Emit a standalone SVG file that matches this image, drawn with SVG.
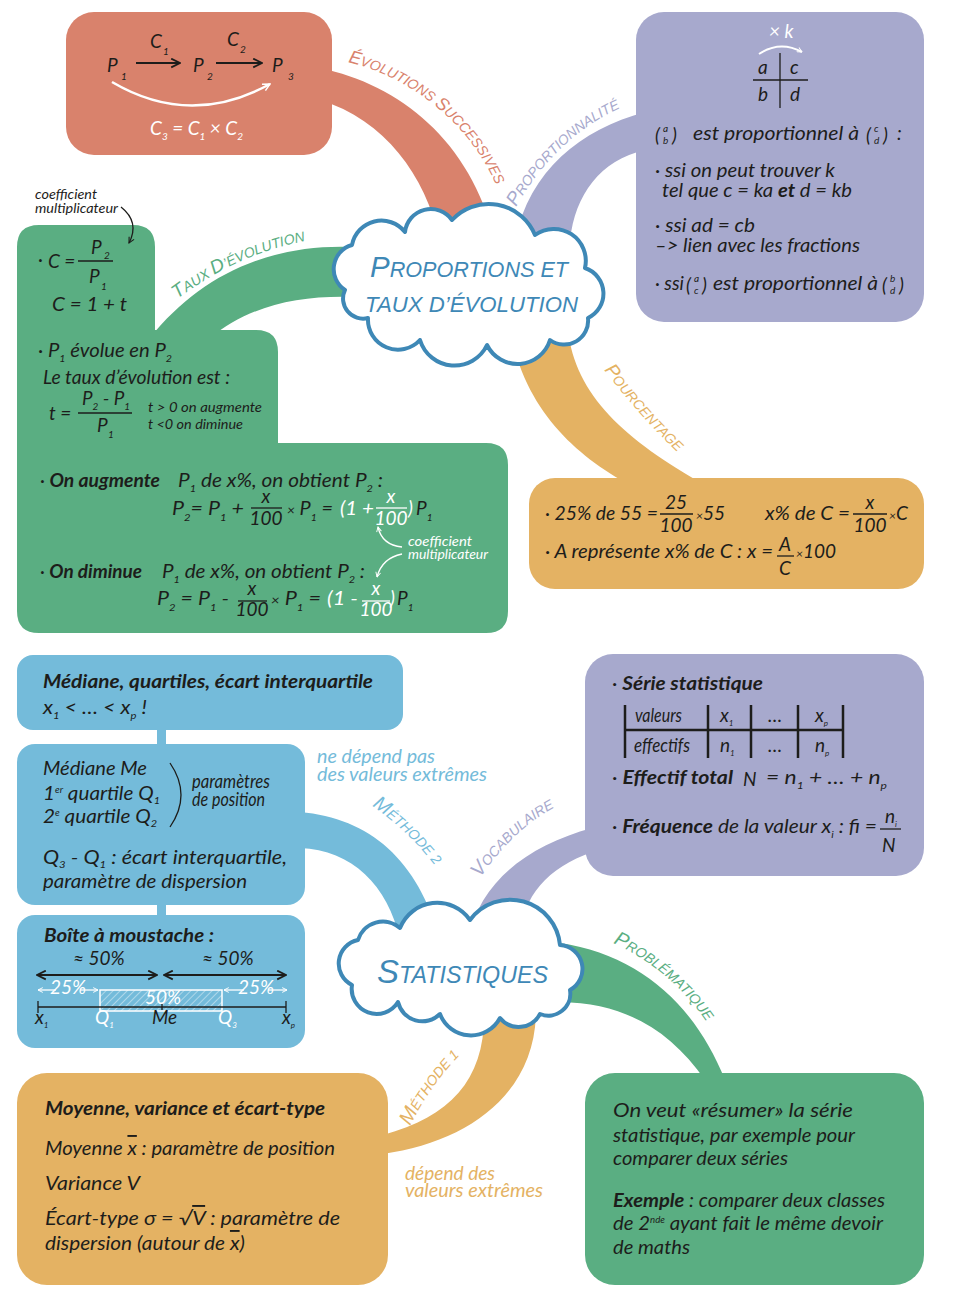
<svg xmlns="http://www.w3.org/2000/svg" width="960" height="1302" viewBox="0 0 960 1302">
<defs>
<style>
.t{font-family:Lato,'Liberation Sans',sans-serif;font-style:italic;font-size:19px;fill:#1d1d1b}
.b{font-weight:700}
.w{fill:#fff}
.sm{font-size:12.5px}
.sb{font-size:10px}
.lbl{font-family:'Liberation Sans',sans-serif;font-style:italic;font-size:14px}
.ttl{font-family:'Liberation Sans',sans-serif;font-style:italic;fill:#3E88B6}
.cloud{fill:#fff;stroke:#3E88B6;stroke-width:4;stroke-linejoin:round}
.ln{stroke:#1d1d1b;stroke-width:1.3;fill:none}
.wl{stroke:#fff;stroke-width:1.3;fill:none}
.tb{stroke:#1d1d1b;stroke-width:2.5}
</style>
<marker id="mB" viewBox="0 0 10 10" refX="9" refY="5" markerWidth="11" markerHeight="11" markerUnits="userSpaceOnUse" orient="auto-start-reverse"><path d="M1,1 L9,5 L1,9" fill="none" stroke="#1d1d1b" stroke-width="1.6"/></marker>
<marker id="mBs" viewBox="0 0 10 10" refX="9" refY="5" markerWidth="7" markerHeight="7" markerUnits="userSpaceOnUse" orient="auto-start-reverse"><path d="M1,1 L9,5 L1,9" fill="none" stroke="#1d1d1b" stroke-width="1.6"/></marker>
<marker id="mW" viewBox="0 0 10 10" refX="9" refY="5" markerWidth="9" markerHeight="9" markerUnits="userSpaceOnUse" orient="auto-start-reverse"><path d="M1,1 L9,5 L1,9" fill="none" stroke="#fff" stroke-width="1.6"/></marker>
<marker id="mWs" viewBox="0 0 10 10" refX="9" refY="5" markerWidth="6" markerHeight="6" markerUnits="userSpaceOnUse" orient="auto-start-reverse"><path d="M1,1 L9,5 L1,9" fill="none" stroke="#fff" stroke-width="1.6"/></marker>
<pattern id="hatch" width="5" height="5" patternUnits="userSpaceOnUse" patternTransform="rotate(45)"><line x1="0" y1="0" x2="0" y2="5" stroke="#fff" stroke-opacity="0.55" stroke-width="1.5"/></pattern>
<path id="pEvo" d="M348,62 C415,78 478,130 502,200"/>
<path id="pProp" d="M516,207 C543,160 580,123 634,102"/>
<path id="pTaux" d="M177,299 C214,272 255,250 310,240"/>
<path id="pPour" d="M604,370 C626,398 651,428 682,456"/>
<path id="pMet2" d="M372,806 C400,825 428,852 452,890"/>
<path id="pVoc" d="M480,878 C503,845 530,817 568,801"/>
<path id="pProb" d="M613,943 C657,963 692,995 718,1040"/>
<path id="pMet1" d="M410,1126 C426,1094 448,1064 476,1040"/>
</defs>
<rect width="960" height="1302" fill="#fff"/>

<g id="connectors">
<path d="M320,68 C400,85 470,140 495,240 L440,240 C425,175 385,120 320,100 Z" fill="#D9826C"/>
<path d="M515,240 C530,170 580,130 645,112 L645,150 C600,160 575,195 570,240 Z" fill="#A7A9CD"/>
<path d="M355,247 C270,243 200,275 150,338 L210,338 C250,305 300,295 355,297 Z" fill="#5AAE82"/>
<path d="M510,330 C525,410 575,455 630,485 L705,485 C625,440 575,395 568,330 Z" fill="#E4B263"/>
<path d="M300,812 C370,818 418,860 440,940 L400,940 C388,885 352,850 300,848 Z" fill="#74BBDA"/>
<path d="M468,940 C480,880 530,845 592,828 L592,852 C548,868 522,895 520,940 Z" fill="#A7A9CD"/>
<path d="M560,943 C640,955 695,1005 725,1080 L705,1080 C670,1030 625,1003 560,1002 Z" fill="#5AAE82"/>
<path d="M484,1010 C486,1078 452,1116 383,1135 L383,1154 C468,1142 536,1094 536,1010 Z" fill="#E4B263"/>
<rect x="157" y="728" width="9" height="20" fill="#74BBDA"/>
<rect x="157" y="902" width="9" height="16" fill="#74BBDA"/>
<text class="lbl" fill="#D9826C"><textPath href="#pEvo"><tspan font-size="18">É</tspan>VOLUTIONS <tspan font-size="18">S</tspan>UCCESSIVES</textPath></text>
<text class="lbl" fill="#A7A9CD" font-size="15"><textPath href="#pProp"><tspan font-size="19">P</tspan>ROPORTIONNALITÉ</textPath></text>
<text class="lbl" fill="#5AAE82" font-size="15"><textPath href="#pTaux"><tspan font-size="19">T</tspan>AUX <tspan font-size="19">D</tspan>’ÉVOLUTION</textPath></text>
<text class="lbl" fill="#E4B263" font-size="15"><textPath href="#pPour"><tspan font-size="19">P</tspan>OURCENTAGE</textPath></text>
<text class="lbl" fill="#74BBDA" font-size="16"><textPath href="#pMet2"><tspan font-size="20">M</tspan>ÉTHODE 2</textPath></text>
<text class="lbl" fill="#A7A9CD" font-size="16"><textPath href="#pVoc"><tspan font-size="20">V</tspan>OCABULAIRE</textPath></text>
<text class="lbl" fill="#5AAE82" font-size="16"><textPath href="#pProb"><tspan font-size="20">P</tspan>ROBLÉMATIQUE</textPath></text>
<text class="lbl" fill="#E4B263" font-size="16"><textPath href="#pMet1"><tspan font-size="20">M</tspan>ÉTHODE 1</textPath></text>
</g>

<g id="evolutions-successives">
<rect x="66" y="12" width="266" height="143" rx="28" fill="#D9826C"/>
<text class="t" x="107" y="72" font-size="26">P</text><text class="t sb" x="121" y="80">1</text>
<line x1="136" y1="63" x2="180" y2="63" stroke="#1d1d1b" stroke-width="2" marker-end="url(#mB)"/>
<text class="t" x="150" y="48" font-size="22">C</text><text class="t sb" x="163" y="55">1</text>
<text class="t" x="193" y="72" font-size="26">P</text><text class="t sb" x="207" y="80">2</text>
<line x1="216" y1="63" x2="262" y2="63" stroke="#1d1d1b" stroke-width="2" marker-end="url(#mB)"/>
<text class="t" x="227" y="46" font-size="22">C</text><text class="t sb" x="240" y="53">2</text>
<text class="t" x="272" y="72" font-size="26">P</text><text class="t sb" x="288" y="80">3</text>
<path d="M112,82 Q190,128 270,84" stroke="#fff" stroke-width="2.5" fill="none" marker-end="url(#mW)"/>
<text class="t w" x="150" y="135" font-size="21" textLength="93" lengthAdjust="spacingAndGlyphs">C<tspan class="sb" dy="5">3</tspan><tspan dy="-5"> = C</tspan><tspan class="sb" dy="5">1</tspan><tspan dy="-5"> × C</tspan><tspan class="sb" dy="5">2</tspan></text>
</g>

<g id="proportionnalite">
<rect x="636" y="12" width="288" height="310" rx="28" fill="#A7A9CD"/>
<text class="t w" x="769" y="38" font-size="15">× k</text>
<path d="M759,54 Q780,40 802,52" stroke="#fff" stroke-width="2" fill="none" marker-end="url(#mWs)"/>
<line x1="780" y1="53" x2="780" y2="108" class="ln"/>
<line x1="753" y1="80" x2="808" y2="80" class="ln"/>
<text class="t" x="758" y="74">a</text><text class="t" x="790" y="74">c</text>
<text class="t" x="758" y="101">b</text><text class="t" x="790" y="101">d</text>
<text class="t" x="655" y="142" font-size="22">(</text>
<text class="t sb" x="663" y="132">a</text><text class="t sb" x="663" y="144">b</text>
<text class="t" x="672" y="142" font-size="22">)</text>
<text class="t" x="693" y="140" textLength="166" lengthAdjust="spacingAndGlyphs">est proportionnel à</text>
<text class="t" x="866" y="142" font-size="22">(</text>
<text class="t sb" x="874" y="132">c</text><text class="t sb" x="874" y="144">d</text>
<text class="t" x="883" y="142" font-size="22">)</text>
<text class="t" x="897" y="140">:</text>
<text class="t" x="655" y="177" textLength="180" lengthAdjust="spacingAndGlyphs">· ssi on peut trouver k</text>
<text class="t" x="662" y="197" textLength="190" lengthAdjust="spacingAndGlyphs">tel que c = ka <tspan class="b">et</tspan> d = kb</text>
<text class="t" x="655" y="232" textLength="100" lengthAdjust="spacingAndGlyphs">· ssi ad = cb</text>
<text class="t" x="655" y="252" textLength="205" lengthAdjust="spacingAndGlyphs">–&gt; lien avec les fractions</text>
<text class="t" x="655" y="290">· ssi</text>
<text class="t" x="686" y="292" font-size="22">(</text>
<text class="t sb" x="694" y="282">a</text><text class="t sb" x="694" y="294">c</text>
<text class="t" x="702" y="292" font-size="22">)</text>
<text class="t" x="713" y="290" textLength="165" lengthAdjust="spacingAndGlyphs">est proportionnel à</text>
<text class="t" x="882" y="292" font-size="22">(</text>
<text class="t sb" x="890" y="282">b</text><text class="t sb" x="890" y="294">d</text>
<text class="t" x="899" y="292" font-size="22">)</text>
</g>

<g id="taux-evolution">
<path d="M39,225 H133 Q155,225 155,247 V330 H256 Q278,330 278,352 V443 H486 Q508,443 508,465 V611 Q508,633 486,633 H39 Q17,633 17,611 V247 Q17,225 39,225 Z" fill="#5AAE82"/>
<text class="t sm" x="35" y="199" textLength="62" lengthAdjust="spacingAndGlyphs">coefficient</text>
<text class="t sm" x="35" y="213" textLength="83" lengthAdjust="spacingAndGlyphs">multiplicateur</text>
<path d="M121,207 Q140,222 129,243" class="ln" marker-end="url(#mBs)"/>
<text class="t" x="38" y="266">·</text>
<text class="t" x="48" y="268" font-size="21">C =</text>
<line x1="78" y1="261" x2="113" y2="261" class="ln"/>
<text class="t" x="91" y="254">P</text><text class="t sb" x="104" y="259">2</text>
<text class="t" x="89" y="283">P</text><text class="t sb" x="101" y="290">1</text>
<text class="t" x="52" y="311" font-size="21" textLength="75" lengthAdjust="spacingAndGlyphs">C = 1 + t</text>
<text class="t" x="38" y="357" textLength="134" lengthAdjust="spacingAndGlyphs">· P<tspan class="sb" dy="5">1</tspan><tspan dy="-5"> évolue en P</tspan><tspan class="sb" dy="5">2</tspan></text>
<text class="t" x="43" y="384" textLength="187" lengthAdjust="spacingAndGlyphs">Le taux d’évolution est :</text>
<text class="t" x="49" y="420" font-size="20">t =</text>
<line x1="78" y1="413" x2="132" y2="413" class="ln"/>
<text class="t" x="82" y="405" textLength="48" lengthAdjust="spacingAndGlyphs">P<tspan class="sb" dy="5">2</tspan><tspan dy="-5"> - P</tspan><tspan class="sb" dy="5">1</tspan></text>
<text class="t" x="97" y="432">P</text><text class="t sb" x="108" y="438">1</text>
<text class="t sm" x="148" y="412" textLength="114" lengthAdjust="spacingAndGlyphs">t &gt; 0 on augmente</text>
<text class="t sm" x="148" y="429" textLength="95" lengthAdjust="spacingAndGlyphs">t &lt;0 on diminue</text>
<text class="t" x="40" y="487" textLength="120" lengthAdjust="spacingAndGlyphs">· <tspan class="b">On augmente</tspan></text>
<text class="t" x="178" y="487" textLength="205" lengthAdjust="spacingAndGlyphs">P<tspan class="sb" dy="5">1</tspan><tspan dy="-5"> de x%, on obtient P</tspan><tspan class="sb" dy="5">2</tspan><tspan dy="-5"> :</tspan></text>
<text class="t" x="172" y="515" font-size="20" textLength="72" lengthAdjust="spacingAndGlyphs">P<tspan class="sb" dy="6">2</tspan><tspan dy="-6">= P</tspan><tspan class="sb" dy="6">1</tspan><tspan dy="-6"> +</tspan></text>
<text class="t" x="266" y="503" font-size="13" text-anchor="middle">x</text>
<line x1="251" y1="508" x2="282" y2="508" class="ln"/>
<text class="t" x="266" y="525" font-size="14" text-anchor="middle">100</text>
<text class="t" x="287" y="515" font-size="20" textLength="46" lengthAdjust="spacingAndGlyphs"><tspan font-size="13">×</tspan> P<tspan class="sb" dy="6">1</tspan><tspan dy="-6"> =</tspan></text>
<text class="t w" x="340" y="515" font-size="20" textLength="34" lengthAdjust="spacingAndGlyphs">(1 +</text>
<text class="t w" x="391" y="503" font-size="13" text-anchor="middle">x</text>
<line x1="376" y1="508" x2="407" y2="508" class="wl"/>
<text class="t w" x="391" y="525" font-size="14" text-anchor="middle">100</text>
<text class="t w" x="408" y="515" font-size="20">)</text>
<text class="t" x="416" y="515" font-size="20">P<tspan class="sb" dy="6">1</tspan></text>
<text class="t w sm" x="408" y="546" textLength="64" lengthAdjust="spacingAndGlyphs">coefficient</text>
<text class="t w sm" x="408" y="559" textLength="80" lengthAdjust="spacingAndGlyphs">multiplicateur</text>
<path d="M402,547 Q382,545 378,527" class="wl" marker-end="url(#mWs)"/>
<path d="M402,554 Q382,558 377,577" class="wl" marker-end="url(#mWs)"/>
<text class="t" x="40" y="578" textLength="102" lengthAdjust="spacingAndGlyphs">· <tspan class="b">On diminue</tspan></text>
<text class="t" x="162" y="578" textLength="203" lengthAdjust="spacingAndGlyphs">P<tspan class="sb" dy="5">1</tspan><tspan dy="-5"> de x%, on obtient P</tspan><tspan class="sb" dy="5">2</tspan><tspan dy="-5"> :</tspan></text>
<text class="t" x="157" y="605" font-size="20" textLength="72" lengthAdjust="spacingAndGlyphs">P<tspan class="sb" dy="6">2</tspan><tspan dy="-6"> = P</tspan><tspan class="sb" dy="6">1</tspan><tspan dy="-6"> -</tspan></text>
<text class="t" x="252" y="595" font-size="13" text-anchor="middle">x</text>
<line x1="238" y1="601" x2="267" y2="601" class="ln"/>
<text class="t" x="252" y="616" font-size="14" text-anchor="middle">100</text>
<text class="t" x="271" y="605" font-size="20" textLength="50" lengthAdjust="spacingAndGlyphs"><tspan font-size="13">×</tspan> P<tspan class="sb" dy="6">1</tspan><tspan dy="-6"> =</tspan></text>
<text class="t w" x="327" y="605" font-size="20" textLength="31" lengthAdjust="spacingAndGlyphs">(1 -</text>
<text class="t w" x="376" y="595" font-size="13" text-anchor="middle">x</text>
<line x1="362" y1="601" x2="390" y2="601" class="wl"/>
<text class="t w" x="376" y="616" font-size="14" text-anchor="middle">100</text>
<text class="t w" x="390" y="605" font-size="20">)</text>
<text class="t" x="397" y="605" font-size="20">P<tspan class="sb" dy="6">1</tspan></text>
</g>

<g id="pourcentage">
<rect x="529" y="478" width="395" height="111" rx="26" fill="#E4B263"/>
<text class="t" x="545" y="520" textLength="113" lengthAdjust="spacingAndGlyphs">· 25% de 55 =</text>
<text class="t" x="676" y="509" font-size="15" text-anchor="middle">25</text>
<line x1="660" y1="514" x2="693" y2="514" class="ln"/>
<text class="t" x="676" y="532" font-size="15" text-anchor="middle">100</text>
<text class="t" x="696" y="520"><tspan font-size="12">×</tspan>55</text>
<text class="t" x="765" y="520" textLength="85" lengthAdjust="spacingAndGlyphs">x% de C =</text>
<text class="t" x="870" y="509" font-size="15" text-anchor="middle">x</text>
<line x1="853" y1="514" x2="887" y2="514" class="ln"/>
<text class="t" x="870" y="532" font-size="15" text-anchor="middle">100</text>
<text class="t" x="889" y="520"><tspan font-size="12">×</tspan>C</text>
<text class="t" x="545" y="558" textLength="228" lengthAdjust="spacingAndGlyphs">· A représente x% de C : x =</text>
<text class="t" x="785" y="551" font-size="17" text-anchor="middle">A</text>
<line x1="777" y1="556" x2="794" y2="556" class="ln"/>
<text class="t" x="785" y="575" font-size="17" text-anchor="middle">C</text>
<text class="t" x="796" y="558"><tspan font-size="12">×</tspan>100</text>
</g>

<g id="cloud-proportions">
<path class="cloud" d="M345,290 A25,25 0 0 1 352,245 A30,30 0 0 1 405,232 A26,26 0 0 1 452,220 A50,50 0 0 1 535,235 A32,32 0 0 1 585,268 A27,27 0 0 1 588,318 A24,24 0 0 1 550,340 A34,34 0 0 1 487,345 A36,36 0 0 1 420,340 A30,30 0 0 1 368,318 A20,20 0 0 1 345,290 Z"/>
<text class="ttl" x="370" y="277" font-size="22" textLength="198" lengthAdjust="spacingAndGlyphs"><tspan font-size="30">P</tspan>ROPORTIONS ET</text>
<text class="ttl" x="365" y="312" font-size="22" textLength="213" lengthAdjust="spacingAndGlyphs">TAUX D’ÉVOLUTION</text>
</g>

<g id="methode2-mediane">
<rect x="17" y="655" width="386" height="75" rx="16" fill="#74BBDA"/>
<text class="t b" x="43" y="688" textLength="330" lengthAdjust="spacingAndGlyphs">Médiane, quartiles, écart interquartile</text>
<text class="t" x="43" y="714" textLength="104" lengthAdjust="spacingAndGlyphs">x<tspan class="sb" dy="5">1</tspan><tspan dy="-5"> &lt; … &lt; x</tspan><tspan class="sb" dy="5">p</tspan><tspan dy="-5"> !</tspan></text>
</g>

<g id="methode2-parametres">
<rect x="17" y="744" width="288" height="161" rx="18" fill="#74BBDA"/>
<text class="t" x="43" y="775" textLength="104" lengthAdjust="spacingAndGlyphs">Médiane Me</text>
<text class="t" x="43" y="800" textLength="117" lengthAdjust="spacingAndGlyphs">1<tspan font-size="9" dy="-7">er</tspan><tspan dy="7"> quartile Q</tspan><tspan class="sb" dy="4">1</tspan></text>
<text class="t" x="43" y="823" textLength="114" lengthAdjust="spacingAndGlyphs">2<tspan font-size="9" dy="-7">e</tspan><tspan dy="7"> quartile Q</tspan><tspan class="sb" dy="4">2</tspan></text>
<path d="M170,763 Q192,795 170,827" class="ln" stroke-width="1.8"/>
<text class="t" x="192" y="788" font-size="14" textLength="78" lengthAdjust="spacingAndGlyphs">paramètres</text>
<text class="t" x="192" y="806" font-size="14" textLength="73" lengthAdjust="spacingAndGlyphs">de position</text>
<text class="t" x="43" y="864" textLength="244" lengthAdjust="spacingAndGlyphs">Q<tspan class="sb" dy="4">3</tspan><tspan dy="-4"> - Q</tspan><tspan class="sb" dy="4">1</tspan><tspan dy="-4"> : écart interquartile,</tspan></text>
<text class="t" x="43" y="888" textLength="204" lengthAdjust="spacingAndGlyphs">paramètre de dispersion</text>
<text class="t" x="317" y="763" font-size="17" style="fill:#74BBDA" textLength="118" lengthAdjust="spacingAndGlyphs">ne dépend pas</text>
<text class="t" x="317" y="781" font-size="17" style="fill:#74BBDA" textLength="170" lengthAdjust="spacingAndGlyphs">des valeurs extrêmes</text>
</g>

<g id="methode2-boite">
<rect x="17" y="915" width="288" height="133" rx="18" fill="#74BBDA"/>
<text class="t b" x="44" y="942" textLength="170" lengthAdjust="spacingAndGlyphs">Boîte à moustache :</text>
<text class="t" x="73" y="965" font-size="15">≈ 50%</text>
<text class="t" x="202" y="965" font-size="15">≈ 50%</text>
<line x1="37" y1="975" x2="157" y2="975" stroke="#1d1d1b" stroke-width="2" marker-start="url(#mB)" marker-end="url(#mB)"/>
<line x1="164" y1="975" x2="286" y2="975" stroke="#1d1d1b" stroke-width="2" marker-start="url(#mB)" marker-end="url(#mB)"/>
<rect x="100" y="990" width="122" height="21" fill="url(#hatch)" stroke="#fff" stroke-width="1.5"/>
<line x1="38" y1="990" x2="56" y2="990" class="wl" marker-start="url(#mWs)"/>
<line x1="80" y1="990" x2="98" y2="990" class="wl" marker-end="url(#mWs)"/>
<text class="t w" x="68" y="994" font-size="10" text-anchor="middle">25%</text>
<line x1="224" y1="990" x2="244" y2="990" class="wl" marker-start="url(#mWs)"/>
<line x1="268" y1="990" x2="287" y2="990" class="wl" marker-end="url(#mWs)"/>
<text class="t w" x="256" y="994" font-size="10" text-anchor="middle">25%</text>
<text class="t w" x="163" y="1004" font-size="13" text-anchor="middle">50%</text>
<line x1="38" y1="1007" x2="286" y2="1007" class="ln"/>
<line x1="38" y1="1001" x2="38" y2="1013" class="ln"/>
<line x1="286" y1="1001" x2="286" y2="1013" class="ln"/>
<line x1="162" y1="1004" x2="162" y2="1010" class="ln"/>
<text class="t" x="35" y="1024" font-size="14">x<tspan font-size="8" dy="4">1</tspan></text>
<text class="t w" x="95" y="1024" font-size="15">Q<tspan font-size="8" dy="4">1</tspan></text>
<text class="t" x="152" y="1024" font-size="15">Me</text>
<text class="t w" x="218" y="1024" font-size="15">Q<tspan font-size="8" dy="4">3</tspan></text>
<text class="t" x="282" y="1024" font-size="14">x<tspan font-size="8" dy="4">p</tspan></text>
</g>

<g id="vocabulaire">
<rect x="585" y="654" width="339" height="222" rx="28" fill="#A7A9CD"/>
<text class="t" x="612" y="690" textLength="151" lengthAdjust="spacingAndGlyphs">· <tspan class="b">Série statistique</tspan></text>
<g class="tb">
<line x1="625" y1="705" x2="625" y2="758"/>
<line x1="708" y1="705" x2="708" y2="758"/>
<line x1="751" y1="705" x2="751" y2="758"/>
<line x1="798" y1="705" x2="798" y2="758"/>
<line x1="843" y1="705" x2="843" y2="758"/>
<line x1="625" y1="730" x2="843" y2="730"/>
</g>
<text class="t" x="635" y="722" font-size="14" textLength="47" lengthAdjust="spacingAndGlyphs">valeurs</text>
<text class="t" x="720" y="722" font-size="14">x<tspan font-size="8" dy="4">1</tspan></text>
<text class="t" x="768" y="722" font-size="14">…</text>
<text class="t" x="815" y="722" font-size="14">x<tspan font-size="8" dy="4">p</tspan></text>
<text class="t" x="634" y="752" font-size="14" textLength="56" lengthAdjust="spacingAndGlyphs">effectifs</text>
<text class="t" x="720" y="752" font-size="14">n<tspan font-size="8" dy="4">1</tspan></text>
<text class="t" x="768" y="752" font-size="14">…</text>
<text class="t" x="815" y="752" font-size="14">n<tspan font-size="8" dy="4">p</tspan></text>
<text class="t" x="612" y="784" textLength="121" lengthAdjust="spacingAndGlyphs">· <tspan class="b">Effectif total</tspan></text>
<text class="t" x="743" y="786" font-size="23">N</text>
<text class="t" x="766" y="784" textLength="121" lengthAdjust="spacingAndGlyphs">= n<tspan class="sb" dy="5">1</tspan><tspan dy="-5"> + … + n</tspan><tspan class="sb" dy="5">p</tspan></text>
<text class="t" x="612" y="833" textLength="265" lengthAdjust="spacingAndGlyphs">· <tspan class="b">Fréquence</tspan> de la valeur x<tspan class="sb" dy="5">i</tspan><tspan dy="-5"> : fi =</tspan></text>
<text class="t" x="885" y="823" font-size="15">n<tspan font-size="8" dy="4">i</tspan></text>
<line x1="880" y1="829" x2="901" y2="829" class="ln"/>
<text class="t" x="882" y="852" font-size="21">N</text>
</g>

<g id="cloud-statistiques">
<path class="cloud" d="M352,985 A24,24 0 0 1 358,940 A26,26 0 0 1 400,928 A40,40 0 0 1 470,920 A50,50 0 0 1 560,945 A24,24 0 0 1 570,990 A22,22 0 0 1 540,1014 A24,24 0 0 1 500,1018 A33,33 0 0 1 440,1014 A25,25 0 0 1 398,1002 A25,25 0 0 1 352,985 Z"/>
<text class="ttl" x="377" y="983" font-size="24" textLength="171" lengthAdjust="spacingAndGlyphs"><tspan font-size="34">S</tspan>TATISTIQUES</text>
</g>

<g id="problematique">
<rect x="585" y="1073" width="339" height="212" rx="30" fill="#5AAE82"/>
<text class="t" x="613" y="1117" textLength="240" lengthAdjust="spacingAndGlyphs">On veut «résumer» la série</text>
<text class="t" x="613" y="1142" textLength="242" lengthAdjust="spacingAndGlyphs">statistique, par exemple pour</text>
<text class="t" x="613" y="1165" textLength="175" lengthAdjust="spacingAndGlyphs">comparer deux séries</text>
<text class="t" x="613" y="1207" textLength="272" lengthAdjust="spacingAndGlyphs"><tspan class="b">Exemple</tspan> : comparer deux classes</text>
<text class="t" x="613" y="1230" textLength="270" lengthAdjust="spacingAndGlyphs">de 2<tspan font-size="9" dy="-7">nde</tspan><tspan dy="7"> ayant fait le même devoir</tspan></text>
<text class="t" x="613" y="1254" textLength="77" lengthAdjust="spacingAndGlyphs">de maths</text>
</g>

<g id="methode1">
<rect x="17" y="1073" width="371" height="212" rx="30" fill="#E4B263"/>
<text class="t b" x="45" y="1115" textLength="280" lengthAdjust="spacingAndGlyphs">Moyenne, variance et écart-type</text>
<text class="t" x="45" y="1155" textLength="290" lengthAdjust="spacingAndGlyphs">Moyenne <tspan text-decoration="overline">x</tspan> : paramètre de position</text>
<text class="t" x="45" y="1190" textLength="95" lengthAdjust="spacingAndGlyphs">Variance V</text>
<text class="t" x="45" y="1225" textLength="295" lengthAdjust="spacingAndGlyphs">Écart-type σ = √<tspan text-decoration="overline">V</tspan> : paramètre de</text>
<text class="t" x="45" y="1250" textLength="200" lengthAdjust="spacingAndGlyphs">dispersion (autour de <tspan text-decoration="overline">x</tspan>)</text>
<text class="t" x="405" y="1180" font-size="17" style="fill:#E4B263" textLength="90" lengthAdjust="spacingAndGlyphs">dépend des</text>
<text class="t" x="405" y="1197" font-size="17" style="fill:#E4B263" textLength="138" lengthAdjust="spacingAndGlyphs">valeurs extrêmes</text>
</g>
</svg>
